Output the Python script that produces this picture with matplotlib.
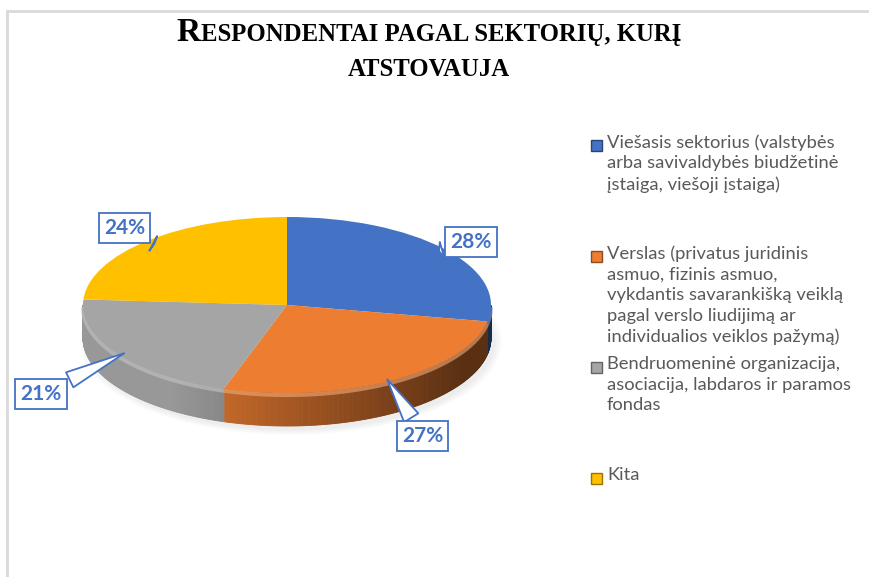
import numpy as np
import matplotlib.pyplot as plt
from matplotlib.patches import Polygon, Rectangle, Ellipse
from matplotlib.transforms import Affine2D
import matplotlib.colors as mcolors

# duomenys
categories = [
    "Viešasis sektorius (valstybės\narba savivaldybės biudžetinė\nįstaiga, viešoji įstaiga)",
    "Verslas (privatus juridinis\nasmuo, fizinis asmuo,\nvykdantis savarankišką veiklą\npagal verslo liudijimą ar\nindividualios veiklos pažymą)",
    "Bendruomeninė organizacija,\nasociacija, labdaros ir paramos\nfondas",
    "Kita",
]
shares = [28, 27, 21, 24]
colors = ["#4472c4", "#ed7d31", "#a5a5a5", "#ffc000"]

title_line1 = [("R", 24), ("ESPONDENTAI PAGAL SEKTORIŲ, KURĮ", 17.8)]
title_line2 = [("ATSTOVAUJA", 17.8)]

# išdėstymas (pikseliais)
W, H = 869, 577
CX, CY, RX, RY, DEPTH = 287, 305, 204, 88, 33
label_offsets = [(35, -10), (37, 59), (-86, 42), (-30, -16)]
LABEL_BLUE = "#4472c4"

fig = plt.figure(figsize=(W / 100, H / 100), dpi=100)
ax = fig.add_axes([0, 0, 1, 1])

# rėmelis
ax.plot([6, W], [10.5, 10.5], color="#d9d9d9", lw=2, solid_capstyle="butt")
ax.plot([6.5, 6.5], [10, H], color="#d9d9d9", lw=2, solid_capstyle="butt")

# šešėlis po skrituliu
for k in range(6):
    ax.add_patch(Ellipse((CX + 4, CY + DEPTH + 4), 2 * RX + 14 - 3 * k, 2 * RY + 10 - 2 * k,
                         color="#808080", alpha=0.025, lw=0, zorder=1))

# viršutinė dalis per ax.pie
wedges, _ = ax.pie(shares, colors=colors, startangle=90, counterclock=False,
                   radius=1, center=(0, 0), wedgeprops=dict(linewidth=0))
tr = Affine2D().scale(RX, -RY).translate(CX, CY) + ax.transData
for w in wedges:
    w.set_transform(tr)
    w.set_zorder(4)


def shade(color, f):
    r, g, b = mcolors.to_rgb(color)
    if f <= 1:
        return (r * f, g * f, b * f)
    f = f - 1
    return (r + (1 - r) * f, g + (1 - g) * f, b + (1 - b) * f)


# šoninė sienelė
for w, c in zip(wedges, colors):
    ts = np.linspace(w.theta1, w.theta2, 200)
    for t0, t1 in zip(ts[:-1], ts[1:]):
        tm = np.radians((t0 + t1) / 2)
        if np.sin(tm) >= 0:
            continue
        a0, a1 = np.radians(t0), np.radians(t1)
        x0, x1 = CX + RX * np.cos(a0), CX + RX * np.cos(a1)
        y0, y1 = CY - RY * np.sin(a0), CY - RY * np.sin(a1)
        f = np.clip(0.82 - 0.38 * (np.cos(tm) + 0.3), 0.38, 0.92)
        col = shade(c, f)
        ax.add_patch(Polygon([(x0, y0), (x1, y1), (x1, y1 + DEPTH), (x0, y0 + DEPTH)],
                             closed=True, fc=col, ec=col, lw=0.6, zorder=2))
    # šviesesnis kraštas
    tt = np.radians(ts)
    front = np.sin(tt) < 0
    if front.any():
        ax.plot(CX + RX * np.cos(tt[front]), CY - RY * np.sin(tt[front]) + 2,
                color=shade(c, 1.35), lw=3, alpha=0.6, zorder=3, solid_capstyle="butt")

# procentų etiketės
for w, s, (dx, dy) in zip(wedges, shares, label_offsets):
    mid = np.radians((w.theta1 + w.theta2) / 2)
    tip = (CX + 0.95 * RX * np.cos(mid), CY - 0.95 * RY * np.sin(mid))
    ax.annotate(f"{s}%", xy=tip, xytext=(tip[0] + dx, tip[1] + dy),
                ha="center", va="center", fontsize=15, fontweight="bold",
                fontfamily="Lato", color=LABEL_BLUE, zorder=6,
                bbox=dict(boxstyle="square,pad=0.25", fc="white", ec=LABEL_BLUE, lw=1.3),
                arrowprops=dict(arrowstyle="wedge,tail_width=0.8,shrink_factor=0.5",
                                fc="white", ec=LABEL_BLUE, lw=1.3))

# legenda
for i, (lab, c) in enumerate(zip(categories, colors)):
    y = 145 + i * 111
    ax.add_patch(Rectangle((591, y - 5.5), 11, 11, fc=c, ec=shade(c, 0.6), lw=1, zorder=5))
    ax.text(607, y - 11, lab, ha="left", va="top", fontsize=13.2, fontfamily="Lato",
            color="#595959", linespacing=1.36)

# pavadinimas mažosiomis didžiosiomis raidėmis
fig.canvas.draw()
renderer = fig.canvas.get_renderer()
for parts, base in [(title_line1, 41), (title_line2, 76)]:
    texts = [ax.text(0, base, s, fontsize=sz, fontfamily="Liberation Serif",
                     fontweight="bold", va="baseline", ha="left", color="black")
             for s, sz in parts]
    widths = [t.get_window_extent(renderer).width for t in texts]
    x = 429 - sum(widths) / 2
    for t, wd in zip(texts, widths):
        t.set_x(x)
        x += wd

ax.set_xlim(0, W)
ax.set_ylim(H, 0)
ax.set_aspect("auto")
ax.axis("off")
fig.savefig("out.png", dpi=100)
